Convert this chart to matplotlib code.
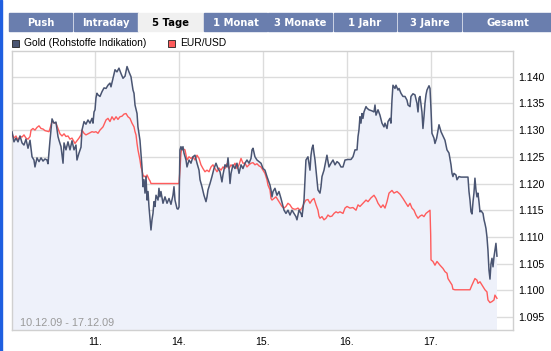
import matplotlib
matplotlib.use('Agg')
import matplotlib.pyplot as plt
from matplotlib.patches import Rectangle

# --- data (t = trading day index, 1.0 = start of "11.") ---
tabs = ['Push', 'Intraday', '5 Tage', '1 Monat', '3 Monate', '1 Jahr', '3 Jahre', 'Gesamt']
active_tab = '5 Tage'
day_pos = [1, 2, 3, 4, 5]
day_labels = ['11.', '14.', '15.', '16.', '17.']
y_ticks = [1.095, 1.100, 1.105, 1.110, 1.115, 1.120, 1.125, 1.130, 1.135, 1.140]
period_label = '10.12.09 - 17.12.09'
gold_name = 'Gold (Rohstoffe Indikation)'
eur_name = 'EUR/USD'

gold_t = [0.015, 0.039, 0.063, 0.087, 0.111, 0.135, 0.158, 0.182, 0.206, 0.230, 0.254, 0.277, 0.289, 0.313,
          0.337, 0.361, 0.385, 0.408, 0.432, 0.444, 0.468, 0.492, 0.515, 0.539, 0.563, 0.575, 0.599, 0.623,
          0.635, 0.658, 0.682, 0.706, 0.730, 0.754, 0.777, 0.789, 0.813, 0.837, 0.849, 0.873, 0.896, 0.920,
          0.944, 0.968, 0.980, 0.992, 1.004, 1.015, 1.027, 1.039, 1.063, 1.087, 1.111, 1.135, 1.158, 1.182,
          1.194, 1.218, 1.242, 1.265, 1.289, 1.313, 1.337, 1.361, 1.385, 1.408, 1.432, 1.456, 1.468, 1.480,
          1.504, 1.515, 1.539, 1.551, 1.563, 1.575, 1.587, 1.599, 1.611, 1.623, 1.635, 1.646, 1.658, 1.670,
          1.682, 1.694, 1.706, 1.718, 1.730, 1.754, 1.765, 1.777, 1.789, 1.813, 1.837, 1.861, 1.885, 1.908,
          1.932, 1.944, 1.956, 1.980, 1.992, 2.004, 2.015, 2.027, 2.039, 2.051, 2.063, 2.087, 2.099, 2.123,
          2.146, 2.170, 2.194, 2.218, 2.242, 2.254, 2.277, 2.301, 2.313, 2.325, 2.337, 2.349, 2.373, 2.396,
          2.420, 2.444, 2.468, 2.492, 2.515, 2.527, 2.551, 2.575, 2.587, 2.599, 2.611, 2.623, 2.646, 2.670,
          2.694, 2.718, 2.742, 2.765, 2.789, 2.813, 2.837, 2.861, 2.873, 2.885, 2.908, 2.932, 2.956, 2.980,
          3.004, 3.027, 3.051, 3.087, 3.099, 3.111, 3.123, 3.146, 3.170, 3.194, 3.218, 3.242, 3.254, 3.277,
          3.301, 3.325, 3.349, 3.373, 3.396, 3.408, 3.432, 3.456, 3.468, 3.492, 3.504, 3.515, 3.539, 3.551,
          3.563, 3.575, 3.587, 3.599, 3.611, 3.623, 3.635, 3.646, 3.658, 3.682, 3.694, 3.706, 3.730, 3.754,
          3.765, 3.789, 3.813, 3.837, 3.861, 3.885, 3.908, 3.932, 3.956, 3.980, 4.015, 4.051, 4.075, 4.099,
          4.123, 4.135, 4.146, 4.158, 4.170, 4.182, 4.194, 4.206, 4.230, 4.242, 4.265, 4.301, 4.325, 4.337,
          4.349, 4.373, 4.396, 4.420, 4.444, 4.456, 4.480, 4.492, 4.515, 4.527, 4.539, 4.551, 4.575, 4.587,
          4.611, 4.623, 4.646, 4.670, 4.694, 4.718, 4.730, 4.754, 4.765, 4.789, 4.813, 4.837, 4.849, 4.861,
          4.873, 4.896, 4.908, 4.920, 4.932, 4.944, 4.956, 4.980, 4.992, 5.004, 5.015, 5.039, 5.051, 5.071,
          5.099, 5.123, 5.146, 5.170, 5.194, 5.218, 5.242, 5.254, 5.265, 5.277, 5.301, 5.313, 5.337, 5.361,
          5.444, 5.456, 5.468, 5.480, 5.492, 5.504, 5.515, 5.527, 5.539, 5.551, 5.563, 5.575, 5.587, 5.599,
          5.623, 5.635, 5.646, 5.658, 5.670, 5.682, 5.694, 5.706, 5.718, 5.730, 5.742, 5.754, 5.765, 5.777,
          5.789]
gold_v = [1.1297, 1.1278, 1.1285, 1.1278, 1.1289, 1.1276, 1.1272, 1.1283, 1.1266, 1.1281, 1.1250, 1.1244, 1.1231, 1.1248,
          1.1241, 1.1248, 1.1242, 1.1246, 1.1244, 1.1237, 1.1281, 1.1321, 1.1313, 1.1315, 1.1288, 1.1281, 1.1269, 1.1238,
          1.1276, 1.1263, 1.1278, 1.1263, 1.1280, 1.1263, 1.1272, 1.1244, 1.1257, 1.1268, 1.1300, 1.1316, 1.1311, 1.1319,
          1.1313, 1.1322, 1.1313, 1.1334, 1.1338, 1.1360, 1.1369, 1.1366, 1.1363, 1.1372, 1.1379, 1.1378, 1.1384, 1.1388,
          1.1381, 1.1397, 1.1413, 1.1409, 1.1416, 1.1406, 1.1397, 1.1401, 1.1419, 1.1409, 1.1400, 1.1375, 1.1369, 1.1347,
          1.1331, 1.1306, 1.1281, 1.1257, 1.1231, 1.1194, 1.1207, 1.1182, 1.1213, 1.1169, 1.1185, 1.1157, 1.1135, 1.1113,
          1.1132, 1.1144, 1.1166, 1.1157, 1.1178, 1.1169, 1.1191, 1.1175, 1.1185, 1.1163, 1.1175, 1.1163, 1.1172, 1.1161,
          1.1178, 1.1194, 1.1169, 1.1153, 1.1152, 1.1156, 1.1263, 1.1269, 1.1263, 1.1269, 1.1257, 1.1244, 1.1231, 1.1244,
          1.1238, 1.1250, 1.1253, 1.1238, 1.1225, 1.1207, 1.1194, 1.1178, 1.1172, 1.1166, 1.1175, 1.1188, 1.1200, 1.1213,
          1.1228, 1.1238, 1.1228, 1.1222, 1.1203, 1.1216, 1.1235, 1.1231, 1.1248, 1.1228, 1.1200, 1.1219, 1.1235, 1.1228,
          1.1238, 1.1219, 1.1235, 1.1228, 1.1238, 1.1244, 1.1238, 1.1247, 1.1263, 1.1266, 1.1250, 1.1244, 1.1241, 1.1238,
          1.1228, 1.1225, 1.1213, 1.1197, 1.1188, 1.1175, 1.1185, 1.1191, 1.1178, 1.1185, 1.1172, 1.1157, 1.1150, 1.1144,
          1.1150, 1.1141, 1.1150, 1.1144, 1.1138, 1.1132, 1.1150, 1.1144, 1.1138, 1.1169, 1.1207, 1.1244, 1.1250, 1.1238,
          1.1225, 1.1253, 1.1266, 1.1272, 1.1257, 1.1244, 1.1225, 1.1207, 1.1188, 1.1182, 1.1194, 1.1213, 1.1225, 1.1244,
          1.1253, 1.1231, 1.1238, 1.1244, 1.1235, 1.1241, 1.1238, 1.1231, 1.1231, 1.1244, 1.1245, 1.1245, 1.1250, 1.1263,
          1.1263, 1.1288, 1.1300, 1.1325, 1.1313, 1.1331, 1.1322, 1.1334, 1.1344, 1.1341, 1.1338, 1.1336, 1.1334, 1.1347,
          1.1328, 1.1338, 1.1328, 1.1313, 1.1306, 1.1313, 1.1303, 1.1316, 1.1322, 1.1313, 1.1356, 1.1384, 1.1378, 1.1384,
          1.1375, 1.1378, 1.1369, 1.1363, 1.1363, 1.1356, 1.1347, 1.1344, 1.1363, 1.1368, 1.1366, 1.1350, 1.1334, 1.1360,
          1.1363, 1.1334, 1.1303, 1.1325, 1.1350, 1.1366, 1.1375, 1.1383, 1.1378, 1.1338, 1.1294, 1.1285, 1.1275, 1.1285,
          1.1310, 1.1297, 1.1289, 1.1281, 1.1263, 1.1257, 1.1235, 1.1219, 1.1213, 1.1219, 1.1216, 1.1207, 1.1213, 1.1212,
          1.1212, 1.1185, 1.1169, 1.1147, 1.1143, 1.1166, 1.1182, 1.1210, 1.1188, 1.1175, 1.1182, 1.1166, 1.1147, 1.1149,
          1.1144, 1.1132, 1.1125, 1.1116, 1.1100, 1.1075, 1.1038, 1.1021, 1.1050, 1.1060, 1.1044, 1.1063, 1.1075, 1.1088,
          1.1064]

eur_t = [0.015, 0.039, 0.063, 0.087, 0.111, 0.135, 0.158, 0.182, 0.206, 0.230, 0.242, 0.265, 0.289, 0.313,
         0.337, 0.361, 0.385, 0.408, 0.432, 0.456, 0.468, 0.492, 0.515, 0.539, 0.563, 0.587, 0.611, 0.635,
         0.658, 0.682, 0.706, 0.730, 0.754, 0.765, 0.789, 0.813, 0.837, 0.849, 0.873, 0.896, 0.920, 0.944,
         0.968, 0.992, 1.015, 1.039, 1.063, 1.099, 1.135, 1.158, 1.182, 1.206, 1.230, 1.254, 1.277, 1.301,
         1.325, 1.349, 1.373, 1.396, 1.420, 1.444, 1.468, 1.480, 1.492, 1.504, 1.515, 1.527, 1.539, 1.551,
         1.563, 1.575, 1.587, 1.599, 1.611, 1.623, 1.635, 1.646, 1.658, 1.670, 2.004, 2.015, 2.027, 2.039,
         2.075, 2.099, 2.123, 2.146, 2.170, 2.194, 2.218, 2.242, 2.265, 2.289, 2.313, 2.337, 2.361, 2.385,
         2.408, 2.432, 2.456, 2.480, 2.504, 2.527, 2.551, 2.575, 2.599, 2.623, 2.646, 2.670, 2.694, 2.718,
         2.742, 2.765, 2.789, 2.813, 2.837, 2.861, 2.885, 2.908, 2.932, 2.956, 2.980, 3.004, 3.027, 3.051,
         3.063, 3.087, 3.099, 3.111, 3.135, 3.158, 3.182, 3.206, 3.230, 3.254, 3.277, 3.301, 3.325, 3.349,
         3.373, 3.396, 3.420, 3.444, 3.468, 3.492, 3.515, 3.539, 3.563, 3.587, 3.611, 3.635, 3.658, 3.670,
         3.682, 3.706, 3.730, 3.754, 3.777, 3.801, 3.825, 3.849, 3.873, 3.896, 3.920, 3.956, 3.980, 4.004,
         4.039, 4.075, 4.111, 4.135, 4.158, 4.194, 4.230, 4.254, 4.289, 4.325, 4.349, 4.373, 4.408, 4.432,
         4.456, 4.480, 4.504, 4.539, 4.563, 4.599, 4.635, 4.670, 4.706, 4.730, 4.754, 4.777, 4.801, 4.825,
         4.849, 4.873, 4.896, 4.920, 4.944, 4.968, 4.992, 5.000, 5.004, 5.027, 5.051, 5.075, 5.111, 5.146,
         5.170, 5.194, 5.206, 5.230, 5.254, 5.265, 5.289, 5.468, 5.492, 5.527, 5.551, 5.563, 5.587, 5.611,
         5.623, 5.646, 5.670, 5.682, 5.706, 5.730, 5.754, 5.765, 5.789]
eur_v = [1.1294, 1.1285, 1.1289, 1.1281, 1.1288, 1.1287, 1.1291, 1.1285, 1.1283, 1.1288, 1.1300, 1.1303, 1.1300, 1.1305,
         1.1308, 1.1303, 1.1302, 1.1299, 1.1298, 1.1297, 1.1303, 1.1316, 1.1314, 1.1313, 1.1303, 1.1293, 1.1289, 1.1293,
         1.1288, 1.1289, 1.1283, 1.1285, 1.1278, 1.1275, 1.1280, 1.1285, 1.1291, 1.1300, 1.1294, 1.1291, 1.1293, 1.1295,
         1.1297, 1.1296, 1.1297, 1.1294, 1.1300, 1.1306, 1.1319, 1.1322, 1.1316, 1.1325, 1.1319, 1.1325, 1.1320, 1.1325,
         1.1326, 1.1330, 1.1331, 1.1325, 1.1322, 1.1313, 1.1306, 1.1297, 1.1291, 1.1275, 1.1263, 1.1253, 1.1244, 1.1231,
         1.1225, 1.1216, 1.1213, 1.1214, 1.1210, 1.1216, 1.1212, 1.1208, 1.1205, 1.1200, 1.1200, 1.1225, 1.1257, 1.1266,
         1.1263, 1.1244, 1.1250, 1.1247, 1.1250, 1.1244, 1.1253, 1.1247, 1.1235, 1.1228, 1.1222, 1.1225, 1.1222, 1.1231,
         1.1235, 1.1228, 1.1222, 1.1229, 1.1225, 1.1231, 1.1228, 1.1237, 1.1228, 1.1235, 1.1231, 1.1238, 1.1228, 1.1235,
         1.1247, 1.1238, 1.1238, 1.1231, 1.1235, 1.1238, 1.1239, 1.1235, 1.1237, 1.1233, 1.1231, 1.1225, 1.1219, 1.1207,
         1.1197, 1.1188, 1.1172, 1.1169, 1.1172, 1.1175, 1.1169, 1.1163, 1.1157, 1.1154, 1.1157, 1.1163, 1.1160, 1.1154,
         1.1152, 1.1152, 1.1154, 1.1150, 1.1154, 1.1163, 1.1169, 1.1170, 1.1163, 1.1169, 1.1172, 1.1160, 1.1150, 1.1139,
         1.1135, 1.1138, 1.1132, 1.1135, 1.1141, 1.1138, 1.1139, 1.1144, 1.1147, 1.1145, 1.1147, 1.1144, 1.1154, 1.1157,
         1.1154, 1.1155, 1.1150, 1.1160, 1.1157, 1.1163, 1.1169, 1.1166, 1.1173, 1.1178, 1.1172, 1.1163, 1.1155, 1.1160,
         1.1154, 1.1166, 1.1182, 1.1187, 1.1182, 1.1185, 1.1180, 1.1172, 1.1163, 1.1157, 1.1163, 1.1154, 1.1150, 1.1141,
         1.1135, 1.1139, 1.1141, 1.1138, 1.1144, 1.1147, 1.1150, 1.1104, 1.1057, 1.1054, 1.1047, 1.1054, 1.1047, 1.1041,
         1.1035, 1.1032, 1.1022, 1.1016, 1.1010, 1.1002, 1.1001, 1.1001, 1.1010, 1.1022, 1.1019, 1.1013, 1.1016, 1.1010,
         1.1007, 1.1001, 1.0997, 1.0982, 1.0977, 1.0979, 1.0982, 1.0991, 1.0985]

gold_col = '#4a5572'
eur_col = '#ff5c5c'
fill_col = '#eef1fa'
grid_col = '#dcdcdc'
tab_col = '#6a7eae'

W, H = 551, 351
fig = plt.figure(figsize=(W / 100, H / 100), dpi=100)
fig.patch.set_facecolor('white')


def fx(px):
    return px / W


def fy(py):
    return 1 - py / H


# blue strip on the left edge
fig.patches.append(Rectangle((0, 0), fx(2), 1, transform=fig.transFigure, color='#1f5fe0', zorder=0))

# tabs along the top
tab_px = [(9, 72), (74, 138), (138, 203), (204, 267), (268, 332), (334, 396), (398, 461), (463, 553)]
for name, (x0, x1) in zip(tabs, tab_px):
    active = name == active_tab
    fig.patches.append(Rectangle((fx(x0), fy(31)), fx(x1 - x0), 18 / H, transform=fig.transFigure,
                                 color='#f0f0f0' if active else tab_col, zorder=1))
    fig.text(fx((x0 + x1) / 2), fy(22.5), name, ha='center', va='center', fontsize=7.2,
             fontweight='bold', color='black' if active else 'white', family='DejaVu Sans')

# legend row
for (x0, name, col) in [(12, gold_name, gold_col), (168, eur_name, eur_col)]:
    fig.patches.append(Rectangle((fx(x0), fy(47)), fx(7), 7 / H, transform=fig.transFigure,
                                 facecolor=col, edgecolor='#222222', linewidth=0.6, zorder=2))
    fig.text(fx(x0 + 12), fy(43.5), name, ha='left', va='center', fontsize=7.4,
             family='Liberation Sans', color='black')

ax = fig.add_axes([fx(12), 1 - 330 / H, fx(501), 279 / H])
ax.set_xlim(0.0155, 5.98)
ax.set_ylim(1.09257, 1.14481)

ax.fill_between(gold_t, gold_v, 1.0, color=fill_col, linewidth=0, zorder=1)
ax.plot(eur_t, eur_v, color=eur_col, linewidth=1.0, zorder=3)
ax.plot(gold_t, gold_v, color=gold_col, linewidth=1.1, zorder=4)

ax.set_xticks(day_pos)
ax.set_xticklabels(day_labels)
ax.set_yticks(y_ticks)
ax.set_yticklabels(['{:.3f}'.format(v) for v in y_ticks])
ax.yaxis.tick_right()
ax.tick_params(axis='both', length=0, labelsize=7.6, colors='black')
ax.tick_params(axis='x', pad=5)
ax.tick_params(axis='y', pad=3.5)
for lab in ax.get_xticklabels() + ax.get_yticklabels():
    lab.set_family('Liberation Sans')
ax.grid(True, color=grid_col, linewidth=1.0, zorder=0)
ax.set_axisbelow(True)
for s in ax.spines.values():
    s.set_color('#d0d0d0')
    s.set_linewidth(1.0)

ax.text(0.016, 0.024, period_label, transform=ax.transAxes, ha='left', va='center',
        fontsize=7.8, color='#9a9a9a', family='Liberation Sans', zorder=5)

fig.savefig('out.png', dpi=100)
